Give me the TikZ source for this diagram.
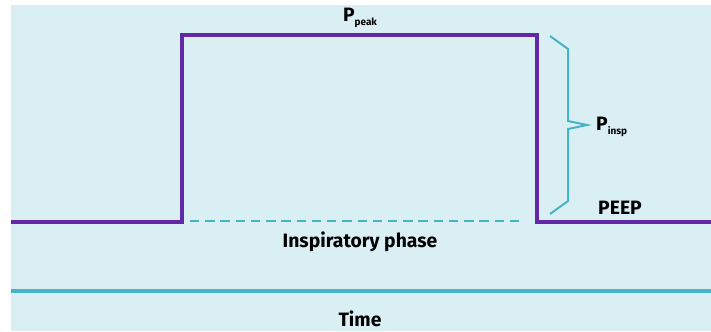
\documentclass[tikz,border=0pt]{standalone}
\usepackage{fontspec}
\setmainfont{Fira Sans}
\usetikzlibrary{positioning}

\definecolor{bgblue}{HTML}{DAEFF4}
\definecolor{wavepurple}{HTML}{6228A6}
\definecolor{linecyan}{HTML}{45B4C6}

\newcommand{\subtxt}[1]{\raisebox{-0.4ex}{\fontsize{8.5}{9}\selectfont #1}}

\begin{document}
\begin{tikzpicture}[
  x=0.03cm, y=-0.03cm,
  wave/.style={draw=wavepurple, line width=3.4pt},
  guide/.style={draw=linecyan, line width=1.7pt},
  lbl/.style={font=\fontsize{16.5}{19}\selectfont\bfseries, inner sep=0pt}
]
\useasboundingbox (0,0) rectangle (711,331);
\fill[bgblue] (11,5) rectangle (711,331);

% pressure curve
\coordinate (start)  at (11,222);
\coordinate (riseB)  at (182,222);
\coordinate (riseT)  at (182,35);
\coordinate (fallT)  at (537,35);
\coordinate (fallB)  at (537,222);
\coordinate (finish) at (711,222);
\draw[wave, line join=miter] (start) -- (riseB) -- (riseT) -- (fallT) -- (fallB) -- (finish);

% inspiratory phase
\coordinate (dashL) at (190,221);
\coordinate (dashR) at (524,221);
\draw[guide, dash pattern=on 8pt off 5pt] (dashL) -- (dashR);
\node[lbl] (insp) at (360,242) {Inspiratory phase};

% brace for P_insp
\coordinate (brTop) at (550,36);
\coordinate (brA)   at (568,49);
\coordinate (brB)   at (568,121);
\coordinate (brTip) at (587,125);
\coordinate (brC)   at (568,129);
\coordinate (brD)   at (568,201);
\coordinate (brBot) at (550,214);
\draw[guide, line join=miter] (brTop) -- (brA) -- (brB) -- (brTip) -- (brC) -- (brD) -- (brBot);
\node[lbl, anchor=west] (pinsp) at (596,127) {P\subtxt{insp}};

% labels
\node[lbl] (ppeak) at (360,18) {P\subtxt{peak}};
\node[lbl, anchor=west] (peep) at (598,208) {PEEP};

% time axis
\coordinate (axisL) at (11,291);
\coordinate (axisR) at (711,291);
\draw[draw=linecyan, line width=4pt] (axisL) -- (axisR);
\node[lbl, anchor=base] (time) at (360,326) {Time};
\end{tikzpicture}
\end{document}
